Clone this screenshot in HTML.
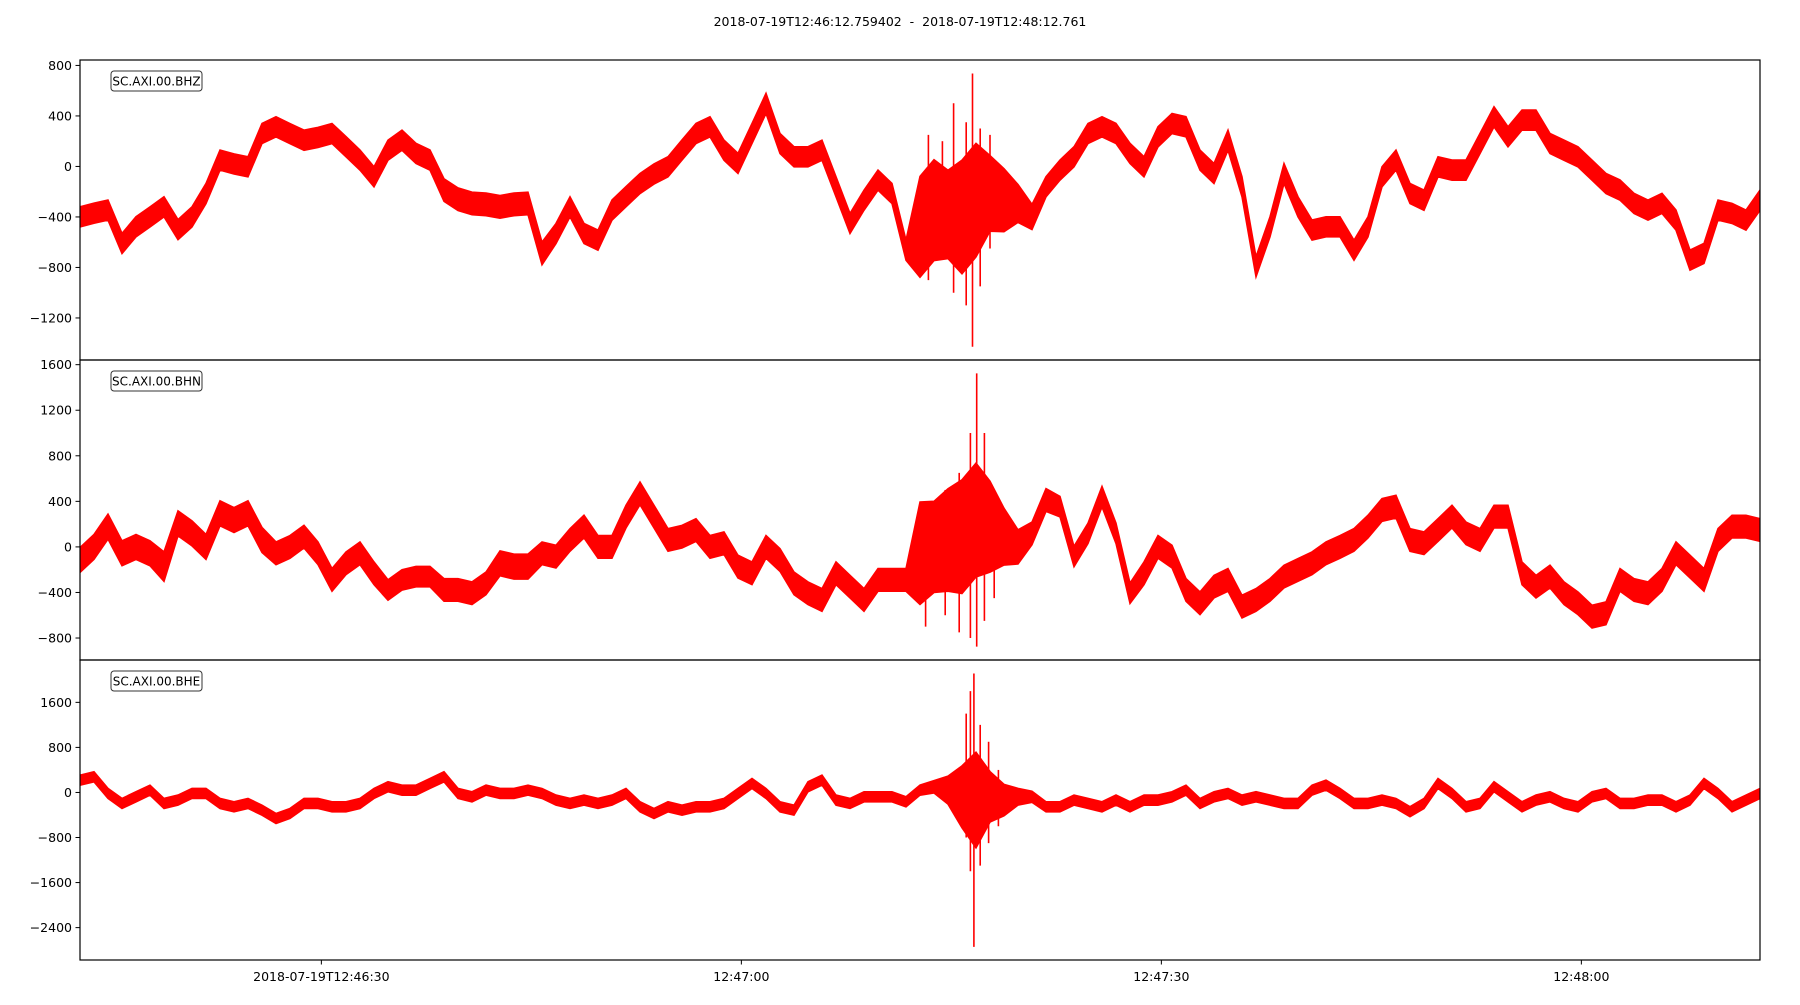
<!DOCTYPE html>
<html><head><meta charset="utf-8"><style>
html,body{margin:0;padding:0;background:#fff;}
svg text{font-family:"DejaVu Sans","Liberation Sans",sans-serif;fill:#000;}
</style></head><body>
<svg id="fig" width="1800" height="1000" viewBox="0 0 1800 1000" xmlns="http://www.w3.org/2000/svg">
<text x="900" y="26" font-size="12.5" text-anchor="middle" style="white-space:pre" xml:space="preserve">2018-07-19T12:46:12.759402  -  2018-07-19T12:48:12.761</text>
</svg>
<script>
// ---- data (1 sample per second, t = 0..120 s from 12:46:12.76) ----
const channelNames = ["SC.AXI.00.BHZ", "SC.AXI.00.BHN", "SC.AXI.00.BHE"];
const valuesBHZ = [-400,-370,-346,-610,-478,-400,-320,-500,-400,-214,50,20,-3,261,314,260,208,230,261,156,50,-82,129,208,103,50,-187,-260,-293,-300,-320,-300,-293,-689,-531,-320,-531,-584,-346,-240,-135,-60,-3,130,261,314,129,24,261,499,182,76,76,129,-161,-452,-267,-108,-214,-663,
-478,-346,-380,-400,-267,-214,-267,-293,-400,-161,-29,76,261,314,261,103,-3,235,340,314,50,-56,208,-161,-795,-478,-56,-320,-504,-478,-478,-663,-478,-82,50,-214,-267,-3,-29,-29,182,393,235,367,367,182,129,76,-29,-135,-187,-293,-346,-293,-425,-742,-689,-346,-372,-425,-267];
const valuesBHN = [-115,0,178,-56,0,-56,-173,207,119,0,295,236,295,61,-56,0,90,-56,-290,-144,-56,-232,-378,-290,-261,-261,-378,-378,-407,-320,-144,-173,-173,-56,-85,61,178,0,0,266,470,266,61,90,148,0,32,-173,-232,0,-115,-320,-407,-466,-232,-349,-466,-290,-290,-290,
-56,0,61,90,236,178,90,0,119,412,353,-85,119,441,119,-407,-232,0,-85,-378,-495,-349,-290,-524,-466,-378,-261,-202,-144,-56,0,61,178,324,353,61,32,148,266,119,61,266,266,-232,-349,-261,-407,-495,-612,-583,-290,-378,-407,-290,-56,-173,-290,61,178,178,148];
const valuesBHE = [219,278,-18,-195,-77,41,-195,-136,-18,-18,-195,-255,-195,-314,-462,-373,-195,-195,-255,-255,-195,-18,101,41,41,160,278,-18,-77,41,-18,-18,41,-18,-136,-195,-136,-195,-136,-18,-255,-373,-255,-314,-255,-255,-195,-18,160,-18,-255,-314,101,219,-136,-195,-77,-77,-77,-166,
41,101,41,-77,-136,-77,-136,-77,-77,-255,-255,-136,-195,-255,-136,-255,-136,-136,-77,41,-195,-77,-18,-136,-77,-136,-195,-195,41,130,-18,-195,-195,-136,-195,-343,-195,160,-18,-255,-195,101,-77,-255,-136,-77,-195,-255,-77,-18,-195,-195,-136,-136,-255,-136,160,-18,-255,-136,-18];
const noiseBHZ = [80,80,80,80,80,80,80,80,80,80,80,80,80,80,80,80,80,80,80,80,80,80,80,80,80,80,90,90,90,90,90,90,90,90,80,80,80,80,80,80,80,80,80,80,80,80,80,80,80,80,80,80,80,80,80,80,80,80,80,80,
400,400,350,450,450,300,250,150,100,80,80,80,80,80,80,80,80,80,80,80,80,80,80,80,80,80,80,80,80,80,80,80,80,80,80,80,80,80,80,80,80,80,80,80,80,80,80,80,80,80,80,80,80,80,80,80,80,80,80,80,80];
const noiseBHN = [110,110,110,110,110,110,130,110,110,110,110,110,110,110,100,100,100,100,100,100,100,100,90,90,90,90,100,100,100,100,110,110,110,100,100,100,100,100,100,100,100,100,100,100,100,100,100,100,100,100,100,100,100,100,100,100,100,100,100,100,
450,400,450,500,500,400,250,150,100,100,90,90,90,90,90,90,100,100,100,100,100,100,100,100,100,100,100,100,100,100,100,100,100,100,100,100,100,100,100,100,100,100,100,100,100,100,100,100,100,100,100,100,100,100,100,100,100,100,100,100,100];
const noiseBHE = [90,90,90,90,90,90,90,90,90,90,90,90,90,90,90,90,90,90,90,90,90,90,90,90,90,90,90,90,90,90,90,90,90,90,90,90,90,90,90,90,90,90,90,90,90,90,90,90,90,90,90,90,90,90,90,90,90,90,90,90,
90,110,250,550,850,450,280,150,100,90,90,90,90,90,90,90,90,90,90,90,90,90,90,90,90,90,90,90,90,90,90,90,90,90,90,90,90,90,90,90,90,90,90,90,90,90,90,90,90,90,90,90,90,90,90,90,90,90,90,90,90];
const spikeTimesBHZ = [60.6, 61.6, 62.4, 63.3, 63.75, 64.3, 65.0];
const spikeHiBHZ = [250, 200, 500, 350, 736, 300, 250];
const spikeLoBHZ = [-900, -700, -1000, -1100, -1428, -950, -650];
const spikeTimesBHN = [60.4, 61.8, 62.8, 63.6, 64.05, 64.6, 65.3];
const spikeHiBHN = [300, 500, 650, 1000, 1524, 1000, 500];
const spikeLoBHN = [-700, -600, -750, -800, -876, -650, -450];
const spikeTimesBHE = [62.8, 63.3, 63.6, 63.85, 64.3, 64.9, 65.6];
const spikeHiBHE = [300, 1400, 1800, 2113, 1200, 900, 400];
const spikeLoBHE = [-400, -800, -1400, -2741, -1300, -900, -600];
const yTicksBHZ = [800, 400, 0, -400, -800, -1200];
const yTicksBHN = [1600, 1200, 800, 400, 0, -400, -800];
const yTicksBHE = [1600, 800, 0, -800, -1600, -2400];
const yDomainBHZ = [843, -1533];
const yDomainBHN = [1641, -993];
const yDomainBHE = [2352, -2975];
const xTickSeconds = [17.24, 47.24, 77.24, 107.24];
const xTickLabels = ["2018-07-19T12:46:30", "12:47:00", "12:47:30", "12:48:00"];
const totalSeconds = 120;

// ---- layout ----
const NS = "http://www.w3.org/2000/svg";
const svg = document.getElementById("fig");
const L = 80, R = 1760, panelTops = [60, 360, 660], panelH = 300;
const xScale = t => L + (t / totalSeconds) * (R - L);
function mk(tag, attrs, parent) {
  const e = document.createElementNS(NS, tag);
  for (const k in attrs) e.setAttribute(k, attrs[k]);
  (parent || svg).appendChild(e);
  return e;
}
const fmt = v => (v < 0 ? "\u2212" + Math.abs(v) : String(v));

const panels = [
  {vals: valuesBHZ, noise: noiseBHZ, st: spikeTimesBHZ, sh: spikeHiBHZ, sl: spikeLoBHZ, ticks: yTicksBHZ, dom: yDomainBHZ, key: "bhz"},
  {vals: valuesBHN, noise: noiseBHN, st: spikeTimesBHN, sh: spikeHiBHN, sl: spikeLoBHN, ticks: yTicksBHN, dom: yDomainBHN, key: "bhn"},
  {vals: valuesBHE, noise: noiseBHE, st: spikeTimesBHE, sh: spikeHiBHE, sl: spikeLoBHE, ticks: yTicksBHE, dom: yDomainBHE, key: "bhe"}
];

panels.forEach((p, pi) => {
  const top = panelTops[pi];
  const yScale = v => top + (p.dom[0] - v) / (p.dom[0] - p.dom[1]) * panelH;
  const g = mk("g", {});
  
  
  const cp = mk("clipPath", {id: "clip" + pi}, g);
  mk("rect", {x: L, y: top, width: R - L, height: panelH}, cp);
  const dg = mk("g", {"clip-path": "url(#clip" + pi + ")"}, g);

  let up = [], lo = [];
  p.vals.forEach((v, i) => {
    const x = xScale(i);
    up.push(x.toFixed(1) + "," + yScale(v + p.noise[i]).toFixed(1));
    lo.unshift(x.toFixed(1) + "," + yScale(v - p.noise[i]).toFixed(1));
  });
  const band = mk("polygon", {points: up.concat(lo).join(" "), fill: "#ff0000", stroke: "#ff0000", "stroke-width": 1.5}, dg);
  
  
  p.st.forEach((t, i) => {
    const s = mk("line", {x1: xScale(t), x2: xScale(t), y1: yScale(p.sh[i]), y2: yScale(p.sl[i]), stroke: "#ff0000", "stroke-width": 1.6}, dg);
    
    
  });

  const fr = mk("rect", {x: L, y: top, width: R - L, height: panelH, fill: "none", stroke: "#000", "stroke-width": 1.2}, g);
  
  

  p.ticks.forEach(v => {
    const y = yScale(v);
    mk("line", {x1: L - 4.5, x2: L, y1: y, y2: y, stroke: "#000", "stroke-width": 1}, g);
    const t = mk("text", {x: L - 8, y: y + 4.5, "font-size": 12.5, "text-anchor": "end"}, g);
    t.textContent = fmt(v);
    
    
  });

  const lb = mk("rect", {x: 111, y: top + 11, width: 91, height: 20, rx: 3, fill: "#fff", stroke: "#333", "stroke-width": 1}, g);
  
  
  const lt = mk("text", {x: 156.5, y: top + 25.5, "font-size": 12, "text-anchor": "middle"}, g);
  lt.textContent = channelNames[pi];
  
  
});

xTickSeconds.forEach((s, i) => {
  const x = xScale(s);
  mk("line", {x1: x, x2: x, y1: 960, y2: 964.5, stroke: "#000", "stroke-width": 1});
  const t = mk("text", {x: x, y: 981, "font-size": 12.5, "text-anchor": "middle"});
  t.textContent = xTickLabels[i];
  
  
});
</script>
</body></html>
